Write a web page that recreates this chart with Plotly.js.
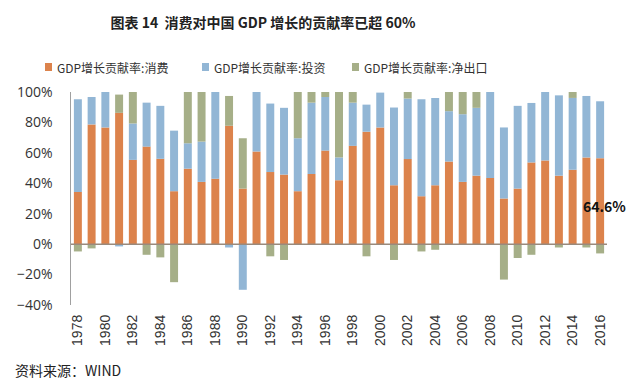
<!DOCTYPE html>
<html>
<head>
<meta charset="utf-8">
<script src="https://cdn.plot.ly/plotly-3.0.1.min.js"></script>
<style>html,body{margin:0;padding:0;background:#fff;}#chart{width:640px;height:388px;}</style>
</head>
<body>
<div id="chart"></div>
<script>
const years = ["1978","1979","1980","1981","1982","1983","1984","1985","1986","1987","1988","1989","1990","1991","1992","1993","1994","1995","1996","1997","1998","1999","2000","2001","2002","2003","2004","2005","2006","2007","2008","2009","2010","2011","2012","2013","2014","2015","2016"];
const consumption = [34.3,78.7,76.7,86.3,55.4,64.1,56.1,34.8,49.6,40.9,43.0,77.8,36.5,60.9,47.4,45.7,34.8,46.1,61.5,42.0,64.6,73.9,76.7,38.7,55.9,31.5,38.7,54.3,40.9,45.0,43.5,30.0,36.5,53.7,55.0,45.0,48.9,57.0,56.5];
const investment = [61.0,18.0,23.3,-1.5,23.9,28.9,34.8,39.8,16.7,26.5,57.0,-2.2,-30.0,39.1,45.0,43.9,34.8,46.9,35.2,15.0,28.4,17.8,22.9,51.1,39.8,63.7,57.4,33.1,44.5,44.6,56.5,46.7,54.4,39.1,45.0,52.8,47.2,40.4,37.4];
const netExports = [-4.8,-2.8,0,12.0,20.7,-7.0,-8.7,-25.0,33.7,32.6,0,19.6,33.1,0,-8.0,-10.4,30.4,7.0,3.3,43.0,7.0,-8.0,0,-10.4,4.3,-4.8,-3.7,12.6,14.6,10.4,0,-23.3,-9.1,-7.0,0,-2.2,3.9,-2.2,-6.1];
const seriesNames = ["GDP增长贡献率:消费","GDP增长贡献率:投资","GDP增长贡献率:净出口"];
const tickYears = years.filter((y, i) => i % 2 === 0);
const labelText = "64.6%";

const colors = ["#DC834C", "#92B6D5", "#A6AF88"];
const vals = [consumption, investment, netExports];
const data = vals.map((v, i) => ({
  type: "bar", x: years, y: v, name: seriesNames[i],
  marker: {color: colors[i], line: {width: 0}},
  hoverinfo: "skip", showlegend: false
}));

// plot area in pixels (for placing legend / notes outside the plot)
const M = {l: 71, r: 33, t: 92, b: 83};
const PW = 640 - M.l - M.r, PH = 388 - M.t - M.b;
const px = x => (x - M.l) / PW;
const py = y => (388 - M.b - y) / PH;

const cjk = '"Noto Sans CJK SC", "Noto Sans", sans-serif';
const legendLeft = [45, 202, 352];
const legendY = 67;
const shapes = [{type: "line", xref: "paper", x0: 0, x1: 1, yref: "y", y0: 0, y1: 0, layer: "above",
                 line: {color: "#9a8a7c", width: 1.5}}];
const annotations = [
  {text: "<b>" + labelText + "</b>", x: years.length - 1, y: 25, xref: "x", yref: "y", showarrow: false,
   xanchor: "center", yanchor: "middle", xshift: 4, font: {family: cjk, size: 14, color: "#111"}},
  {text: "资料来源：WIND", xref: "paper", yref: "paper", x: px(13), y: py(370), xanchor: "left", yanchor: "middle",
   showarrow: false, font: {family: cjk, size: 14, color: "#222"}}
];
seriesNames.forEach((n, i) => {
  shapes.push({type: "rect", xref: "paper", yref: "paper", x0: px(legendLeft[i]), x1: px(legendLeft[i] + 7),
               y0: py(legendY + 4), y1: py(legendY - 4), fillcolor: colors[i], line: {width: 0}});
  annotations.push({text: n, xref: "paper", yref: "paper", x: px(legendLeft[i] + 10), y: py(legendY),
                    xanchor: "left", yanchor: "middle", showarrow: false,
                    font: {family: cjk, size: 12, color: "#333"}});
});

const layout = {
  width: 640, height: 388,
  margin: M,
  paper_bgcolor: "#fff", plot_bgcolor: "#fff",
  barmode: "relative", bargap: 0.42,
  showlegend: false,
  title: {text: "<b>图表 14  消费对中国 GDP 增长的贡献率已超 60%</b>", x: 263/640, xanchor: "center", xref: "container",
          y: 1 - 23/388, yanchor: "middle", yref: "container",
          font: {family: cjk, size: 14, color: "#222"}},
  xaxis: {type: "category", tickmode: "array", tickvals: tickYears, ticktext: tickYears, tickangle: -90,
          range: [-0.5, years.length - 0.5], showgrid: false, zeroline: false, showline: false, ticks: "",
          ticklabelstandoff: 6,
          tickfont: {family: '"Liberation Sans", Arial, sans-serif', size: 14, color: "#333"}},
  yaxis: {range: [-40, 100], dtick: 20, tick0: 0, ticksuffix: "%", showgrid: false, zeroline: false,
          showline: true, linecolor: "#a0a0a0", linewidth: 1.5, ticks: "", ticklabelstandoff: 14,
          tickfont: {family: '"Open Sans", "Liberation Sans", sans-serif', size: 14, color: "#333"}},
  shapes: shapes,
  annotations: annotations
};
Plotly.newPlot("chart", data, layout, {staticPlot: true, displayModeBar: false});
</script>
</body>
</html>
